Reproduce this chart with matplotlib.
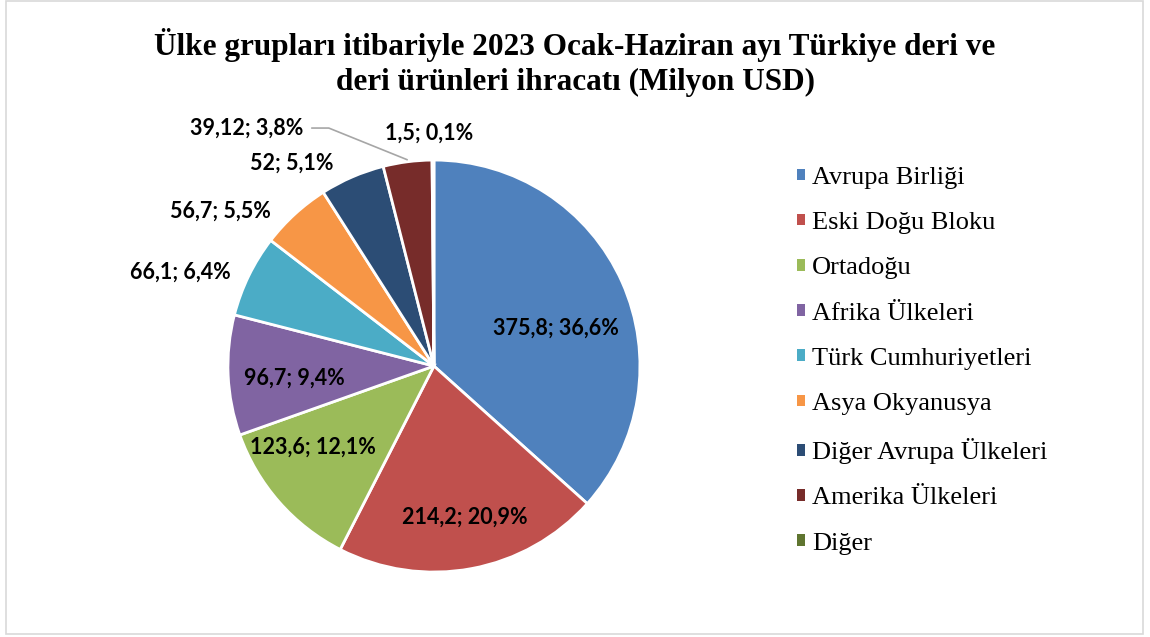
import numpy as np
import matplotlib
matplotlib.use("Agg")
import matplotlib.pyplot as plt
from matplotlib.patches import Patch, Rectangle

# Veriler
gruplar = ["Avrupa Birliği", "Eski Doğu Bloku", "Ortadoğu", "Afrika Ülkeleri",
           "Türk Cumhuriyetleri", "Asya Okyanusya", "Diğer Avrupa Ülkeleri",
           "Amerika Ülkeleri", "Diğer"]
degerler = [375.8, 214.2, 123.6, 96.7, 66.1, 56.7, 52, 39.12, 1.5]
etiket_deger = ["375,8", "214,2", "123,6", "96,7", "66,1", "56,7", "52", "39,12", "1,5"]
etiket_yuzde = ["36,6%", "20,9%", "12,1%", "9,4%", "6,4%", "5,5%", "5,1%", "3,8%", "0,1%"]
renkler = ["#4F81BD", "#C0504D", "#9BBB59", "#8064A2", "#4BACC6",
           "#F79646", "#2C4D75", "#772C2A", "#5F7530"]

# etiket yerleşimi: (açı kayması, yarıçap)
yerlesim = [(-6.6, 0.62), (1, 0.75), (-7.4, 0.71), (2.4, 0.68), (5.7, 1.315),
            (11.5, 1.28), (11.6, 1.20), (30.8, 1.47), (1, 1.13)]

fig = plt.figure(figsize=(11.5, 6.37), dpi=100)
fig.patches.append(Rectangle((0.005, 0.004), 0.989, 0.994, transform=fig.transFigure,
                             fill=False, edgecolor="#d9d9d9", linewidth=1.2))

ax = fig.add_axes([0.0997, -0.0759, 0.5553, 1.0025])
wedges, _ = ax.pie(degerler, colors=renkler, startangle=90, counterclock=False,
                   wedgeprops=dict(edgecolor="white", linewidth=2))
ax.set_xlim(-1.55, 1.55)
ax.set_ylim(-1.55, 1.55)
ax.set_aspect("equal")
ax.axis("off")

for i, w in enumerate(wedges):
    orta = (w.theta1 + w.theta2) / 2
    kayma, r = yerlesim[i]
    a = np.deg2rad(orta + kayma)
    x, y = r * np.cos(a), r * np.sin(a)
    metin = f"{etiket_deger[i]}; {etiket_yuzde[i]}"
    if i == 7:
        kenar = np.deg2rad(orta)
        ax.annotate(metin, xy=(1.01 * np.cos(kenar), 1.01 * np.sin(kenar)), xytext=(x, y),
                    ha="center", va="center", fontsize=15.5, fontweight="bold",
                    family="Lato", color="black", annotation_clip=False,
                    arrowprops=dict(arrowstyle="-", color="#a6a6a6", lw=1.2,
                                    shrinkA=4, shrinkB=0, relpos=(1.0, 0.5),
                                    connectionstyle="angle,angleA=0,angleB=158,rad=0"))
    else:
        ax.text(x, y, metin, ha="center", va="center", fontsize=15.5,
                fontweight="bold", family="Lato", color="black", clip_on=False)

fig.text(0.5, 0.902, "Ülke grupları itibariyle 2023 Ocak-Haziran ayı Türkiye deri ve\n"
         "deri ürünleri ihracatı (Milyon USD)", ha="center", va="center",
         fontsize=22.5, fontweight="bold", family="Liberation Serif", linespacing=1.25)

tutamaclar = [Patch(facecolor=c, edgecolor="none") for c in renkler]
fig.legend(tutamaclar, gruplar, loc="upper left", bbox_to_anchor=(0.693, 0.738),
           frameon=False, prop={"family": "Liberation Serif", "size": 19},
           handlelength=0.3, handleheight=0.3, handletextpad=0.28,
           labelspacing=0.88, borderaxespad=0, borderpad=0)

fig.savefig("out.png", dpi=100)
